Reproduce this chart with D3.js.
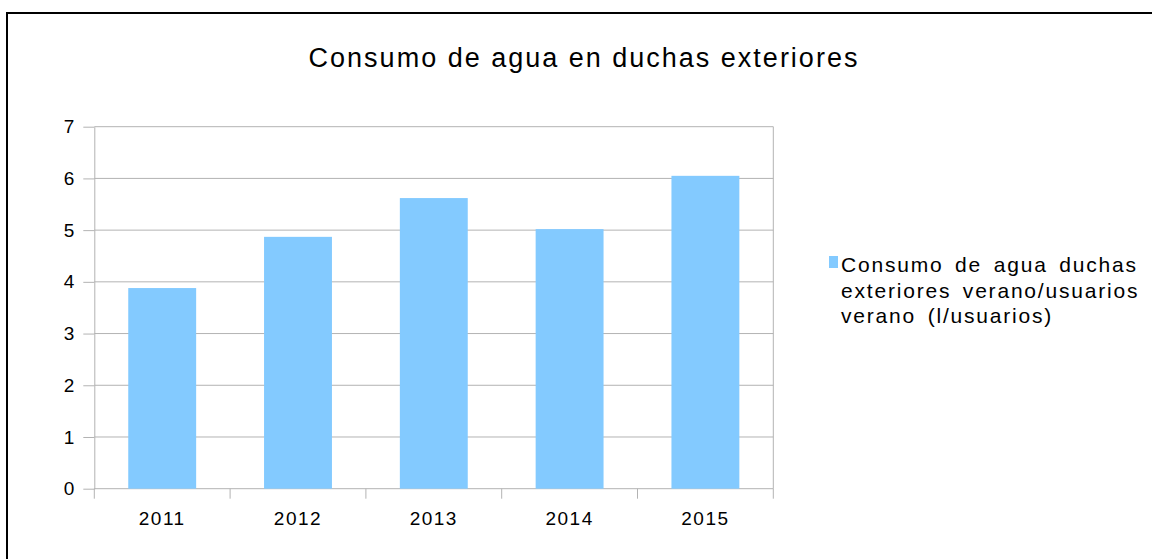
<!DOCTYPE html>
<html>
<head>
<meta charset="utf-8">
<script src="https://cdn.jsdelivr.net/npm/d3@7"></script>
<style>
  body { margin: 0; background: #fff; }
  text { font-family: "Liberation Sans", Arial, sans-serif; fill: #000; }
</style>
</head>
<body>
<svg class="chart"></svg>
<script>
const years = ['2011', '2012', '2013', '2014', '2015'];
const consumo = [3.88, 4.87, 5.62, 5.02, 6.05];
const yTicks = [0, 1, 2, 3, 4, 5, 6, 7];
const titleText = 'Consumo de agua en duchas exteriores';
const legendLines = ['Consumo de agua duchas', 'exteriores verano/usuarios', 'verano (l/usuarios)'];

const width = 1152;
const height = 559;
const svg = d3.select('.chart').attr('width', width).attr('height', height);

// frame round the whole chart
svg.append('rect')
  .attr('x', 7).attr('y', 13)
  .attr('width', 1200).attr('height', 600)
  .attr('fill', 'white').attr('stroke', 'black').attr('stroke-width', 2);

svg.append('text')
  .attr('x', 584).attr('y', 67)
  .attr('text-anchor', 'middle')
  .attr('font-size', 27)
  .attr('letter-spacing', 2)
  .text(titleText);

const plotL = 94.3, plotR = 773.3, plotT = 126.7, plotB = 488.7;
const gridColor = '#b3b3b3';

const x = d3.scaleBand().domain(years).range([plotL, plotR]).paddingInner(0.5).paddingOuter(0.25);
const y = d3.scaleLinear().domain([0, 7]).range([plotB, plotT]);

// horizontal grid
svg.append('g').selectAll('line').data(yTicks).join('line')
  .attr('x1', plotL).attr('x2', plotR)
  .attr('y1', d => y(d)).attr('y2', d => y(d))
  .attr('stroke', gridColor).attr('stroke-width', 1);

// right border of plot
svg.append('line')
  .attr('x1', plotR).attr('x2', plotR).attr('y1', plotT).attr('y2', plotB)
  .attr('stroke', gridColor);

// y axis
const yAxis = svg.append('g')
  .attr('transform', `translate(${plotL},0)`)
  .call(d3.axisLeft(y).tickValues(yTicks).tickFormat(d3.format('d'))
    .tickSize(11).tickPadding(9).tickSizeOuter(0));
yAxis.select('.domain').attr('stroke', gridColor);
yAxis.selectAll('.tick line').attr('stroke', gridColor);
yAxis.selectAll('.tick text')
  .attr('font-size', 19).attr('font-family', '"Liberation Sans", Arial, sans-serif').attr('fill', '#000');

// bars
svg.append('g').selectAll('rect').data(years).join('rect')
  .attr('x', d => x(d))
  .attr('y', (d, i) => y(consumo[i]))
  .attr('width', x.bandwidth())
  .attr('height', (d, i) => y(0) - y(consumo[i]))
  .attr('fill', '#83caff');

// x axis: ticks sit on the category boundaries
const edges = years.map(d => x(d) - x.step() * 0.25).concat([plotR]);
svg.append('g').selectAll('line').data(edges).join('line')
  .attr('x1', d => d).attr('x2', d => d)
  .attr('y1', plotB).attr('y2', plotB + 10)
  .attr('stroke', gridColor);

svg.append('g').selectAll('text').data(years).join('text')
  .attr('x', d => x(d) + x.bandwidth() / 2)
  .attr('y', 525)
  .attr('text-anchor', 'middle')
  .attr('font-size', 19)
  .attr('letter-spacing', 1.5)
  .text(d => d);

// legend
svg.append('rect')
  .attr('x', 829).attr('y', 256).attr('width', 9).attr('height', 12)
  .attr('fill', '#83caff');

svg.append('g').selectAll('text').data(legendLines).join('text')
  .attr('x', 841)
  .attr('y', (d, i) => 272 + i * 25.5)
  .attr('font-size', 21)
  .attr('letter-spacing', 1.8)
  .attr('word-spacing', 4)
  .text(d => d);
</script>
</body>
</html>
